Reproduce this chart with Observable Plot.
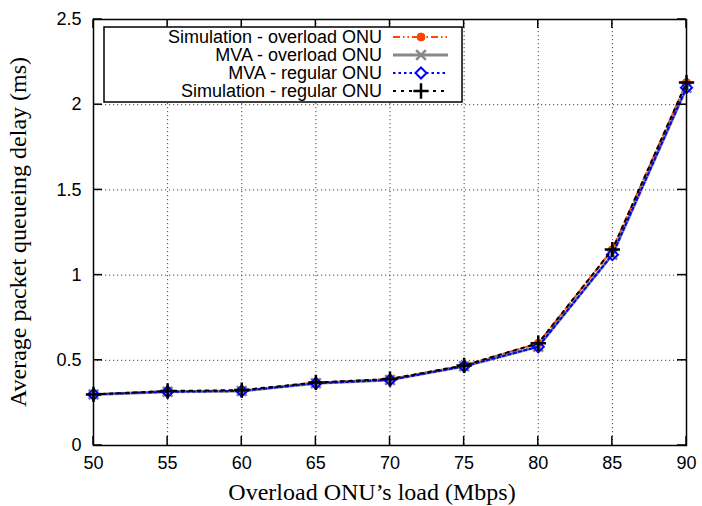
<!DOCTYPE html>
<html>
<head>
<meta charset="utf-8">
<script src="https://cdn.jsdelivr.net/npm/d3@7"></script>
<script src="https://cdn.jsdelivr.net/npm/@observablehq/plot@0.6"></script>
<style>
  html, body { margin: 0; padding: 0; background: white; }
  #chart svg { display: block; }
</style>
</head>
<body>
<div id="chart"></div>
<script>
// ---- data ----
const loads = [50, 55, 60, 65, 70, 75, 80, 85, 90];
const simOverload = [0.30, 0.32, 0.32, 0.37, 0.39, 0.47, 0.60, 1.15, 2.13];
const mvaOverload = [0.30, 0.315, 0.32, 0.365, 0.385, 0.465, 0.58, 1.12, 2.10];
const mvaRegular  = [0.30, 0.315, 0.32, 0.365, 0.385, 0.465, 0.58, 1.12, 2.10];
const simRegular  = [0.30, 0.32, 0.325, 0.37, 0.39, 0.47, 0.60, 1.15, 2.13];
const seriesNames = ["Simulation - overload ONU", "MVA - overload ONU", "MVA - regular ONU", "Simulation - regular ONU"];
const xTicks = [50, 55, 60, 65, 70, 75, 80, 85, 90];
const yTicks = [0, 0.5, 1, 1.5, 2, 2.5];
const xTitle = "Overload ONU\u2019s load (Mbps)";
const yTitle = "Average packet queueing delay (ms)";

// ---- styles ----
const styles = [
  {stroke: "#ff4500", width: 2, dash: "7,3,1.5,3,1.5,3", symbol: "circle", fill: "#ff4500", symStroke: "#ff4500", r: 4, symWidth: 1},
  {stroke: "#888888", width: 3, dash: null, symbol: "times", fill: "none", symStroke: "#888888", r: 4.5, symWidth: 2.5},
  {stroke: "#0000ff", width: 2, dash: "2.5,3", symbol: "diamond2", fill: "none", symStroke: "#0000ff", r: 5, symWidth: 2},
  {stroke: "#000000", width: 2, dash: "3,5", symbol: "plus", fill: "none", symStroke: "#000000", r: 5, symWidth: 2.5}
];
const seriesValues = [simOverload, mvaOverload, mvaRegular, simRegular];
const seriesData = seriesValues.map(vals => loads.map((l, i) => ({x: l, y: vals[i]})));

const dataMarks = [];
seriesData.forEach((d, k) => {
  const s = styles[k];
  dataMarks.push(Plot.line(d, {x: "x", y: "y", stroke: s.stroke, strokeWidth: s.width, strokeDasharray: s.dash}));
  dataMarks.push(Plot.dot(d, {x: "x", y: "y", symbol: () => s.symbol, r: s.r, fill: s.fill, stroke: s.symStroke, strokeWidth: s.symWidth}));
});

const chart = Plot.plot({
  width: 702,
  height: 506,
  marginLeft: 93,
  marginRight: 16,
  marginTop: 19,
  marginBottom: 61,
  style: {fontFamily: "'Liberation Sans', Arial, sans-serif", fontSize: "18px", background: "white", color: "black"},
  x: {domain: [50, 90], ticks: xTicks, tickSize: 0, tickPadding: 11, label: null},
  y: {domain: [0, 2.5], ticks: yTicks, tickSize: 0, tickPadding: 12, label: null, tickFormat: d => String(d)},
  symbol: {type: "identity"},
  marks: [
    Plot.ruleX(xTicks, {stroke: "#444", strokeWidth: 1, strokeDasharray: "1.2,2.8"}),
    Plot.ruleY(yTicks, {stroke: "#444", strokeWidth: 1, strokeDasharray: "1.2,2.8"}),
    ...dataMarks,
    Plot.frame({stroke: "black", strokeWidth: 1.5})
  ]
});
document.getElementById("chart").appendChild(chart);

// ---- inward ticks, titles and legend ----
const svg = d3.select(chart);
const xs = chart.scale("x"), ys = chart.scale("y");
const X0 = xs.apply(50), X1 = xs.apply(90), Y0 = ys.apply(0), Y1 = ys.apply(2.5);
const tl = 9;
const tg = svg.append("g").attr("stroke", "black").attr("stroke-width", 1.5);
xTicks.forEach(t => {
  const px = xs.apply(t);
  tg.append("line").attr("x1", px).attr("x2", px).attr("y1", Y0).attr("y2", Y0 - tl);
  tg.append("line").attr("x1", px).attr("x2", px).attr("y1", Y1).attr("y2", Y1 + tl);
});
yTicks.forEach(t => {
  const py = ys.apply(t);
  tg.append("line").attr("x1", X0).attr("x2", X0 + tl).attr("y1", py).attr("y2", py);
  tg.append("line").attr("x1", X1).attr("x2", X1 - tl).attr("y1", py).attr("y2", py);
});

svg.append("text")
  .attr("x", 372).attr("y", 500)
  .attr("text-anchor", "middle")
  .style("font-family", "'Liberation Serif', 'Times New Roman', serif")
  .style("font-size", "24px")
  .text(xTitle);
svg.append("text")
  .attr("transform", `translate(26,${(Y0 + Y1) / 2}) rotate(-90)`)
  .attr("text-anchor", "middle")
  .style("font-family", "'Liberation Serif', 'Times New Roman', serif")
  .style("font-size", "24px")
  .text(yTitle);

// legend
const lg = svg.append("g");
lg.append("rect").attr("x", 104).attr("y", 27).attr("width", 358).attr("height", 75)
  .attr("fill", "white").attr("stroke", "black").attr("stroke-width", 1.5);
const rowY = [37, 55, 73, 91];
const symMap = {circle: d3.symbolCircle, times: d3.symbolTimes, diamond2: d3.symbolDiamond2, plus: d3.symbolPlus};
seriesNames.forEach((name, k) => {
  const s = styles[k];
  const y = rowY[k];
  lg.append("text").attr("x", 382).attr("y", y).attr("dy", "0.35em")
    .attr("text-anchor", "end")
    .style("font-family", "'Liberation Sans', Arial, sans-serif")
    .style("font-size", "18px")
    .text(name);
  lg.append("line").attr("x1", 393).attr("x2", 448).attr("y1", y).attr("y2", y)
    .attr("stroke", s.stroke).attr("stroke-width", s.width)
    .attr("stroke-dasharray", s.dash);
  const size = Math.PI * s.r * s.r;
  lg.append("path").attr("transform", `translate(421,${y})`)
    .attr("d", d3.symbol(symMap[s.symbol], size)())
    .attr("fill", s.symbol === "diamond2" ? "white" : s.fill)
    .attr("stroke", s.symStroke).attr("stroke-width", s.symWidth);
});
</script>
</body>
</html>
